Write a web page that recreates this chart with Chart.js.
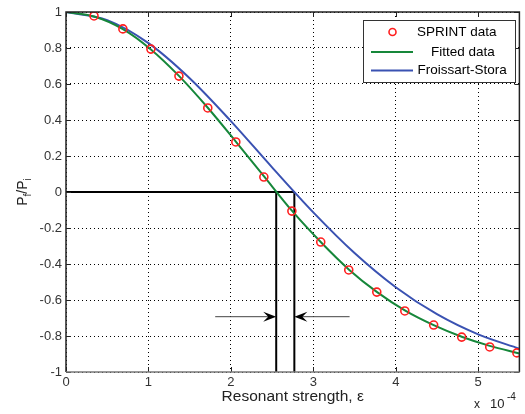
<!DOCTYPE html>
<html><head><meta charset="utf-8">
<script src="https://cdn.jsdelivr.net/npm/chart.js@4"></script>
<style>html,body{margin:0;padding:0;background:#fff}#wrap{width:525px;height:414px}canvas{display:block}</style>
</head><body>
<div id="wrap"><canvas id="c" width="525" height="414"></canvas></div>
<script>
// ---- data ----
const sprintX = [0.34,0.69,1.03,1.37,1.72,2.06,2.40,2.74,3.09,3.43,3.77,4.11,4.46,4.80,5.14,5.47];
const sprintY = [0.978,0.906,0.794,0.644,0.467,0.278,0.083,-0.106,-0.278,-0.433,-0.556,-0.661,-0.739,-0.806,-0.861,-0.894];
const fittedX = [0,0.34,0.69,1.03,1.37,1.72,2.06,2.40,2.74,3.09,3.43,3.77,4.11,4.46,4.80,5.14,5.5];
const fittedY = [1,0.975,0.905,0.792,0.645,0.468,0.280,0.088,-0.104,-0.278,-0.430,-0.555,-0.658,-0.740,-0.804,-0.855,-0.897];
const fsX = [0,0.5,1,1.5,2,2.5,3,3.5,4,4.5,5,5.5];
const fsY = [1,0.955,0.827,0.632,0.394,0.137,-0.113,-0.339,-0.529,-0.679,-0.791,-0.870];
const xTicks = [0,1,2,3,4,5];
const yTicks = [-1,-0.8,-0.6,-0.4,-0.2,0,0.2,0.4,0.6,0.8,1];
const crossFit = 2.55;   // zero crossing of fitted data
const crossFS = 2.77;    // zero crossing of Froissart-Stora
const arrowY = -0.69;
const arrowLeftStart = 1.81;
const arrowRightStart = 3.44;
const legendLabels = ['SPRINT data','Fitted data','Froissart-Stora'];

const toPts = (xs, ys) => xs.map((x, i) => ({x: x, y: ys[i]}));

const COL_RED = '#ff1f1f', COL_GREEN = '#16873a', COL_BLUE = '#3a52b2';
const FONT = '"Liberation Sans", Arial, sans-serif';

const decor = {
  id: 'decor',
  afterDatasetsDraw(chart) {
    const ctx = chart.ctx, xs = chart.scales.x, ys = chart.scales.y;
    const ay = ys.getPixelForValue(arrowY);
    const drawArrow = (fromV, toV) => {
      const x0 = xs.getPixelForValue(fromV), x1 = xs.getPixelForValue(toV);
      const dir = Math.sign(x1 - x0);
      ctx.save();
      ctx.strokeStyle = '#444'; ctx.lineWidth = 1;
      ctx.beginPath(); ctx.moveTo(x0, ay + 0.5); ctx.lineTo(x1 - dir * 6, ay + 0.5); ctx.stroke();
      ctx.fillStyle = '#000';
      ctx.beginPath();
      ctx.moveTo(x1, ay + 0.5);
      ctx.lineTo(x1 - dir * 13, ay - 4.5);
      ctx.lineTo(x1 - dir * 8, ay + 0.5);
      ctx.lineTo(x1 - dir * 13, ay + 5.5);
      ctx.closePath(); ctx.fill();
      ctx.restore();
    };
    drawArrow(arrowLeftStart, crossFit);
    drawArrow(arrowRightStart, crossFS);
  },
  afterDraw(chart) {
    const ctx = chart.ctx, a = chart.chartArea, xs = chart.scales.x, ys = chart.scales.y;
    ctx.save();
    // inner tick marks
    ctx.strokeStyle = '#222'; ctx.lineWidth = 1;
    ctx.beginPath();
    xTicks.forEach(v => {
      const p = Math.round(xs.getPixelForValue(v)) + 0.5;
      ctx.moveTo(p, a.bottom); ctx.lineTo(p, a.bottom - 5);
      ctx.moveTo(p, a.top); ctx.lineTo(p, a.top + 5);
    });
    yTicks.forEach(v => {
      const p = Math.round(ys.getPixelForValue(v)) + 0.5;
      ctx.moveTo(a.left, p); ctx.lineTo(a.left + 5, p);
      ctx.moveTo(a.right, p); ctx.lineTo(a.right - 5, p);
    });
    ctx.stroke();
    // frame
    ctx.lineWidth = 1.5;
    ctx.strokeStyle = '#222';
    ctx.beginPath();
    ctx.moveTo(a.left, a.bottom); ctx.lineTo(a.left, a.top); ctx.lineTo(a.right, a.top); ctx.lineTo(a.right, a.bottom);
    ctx.stroke();
    ctx.strokeStyle = '#777';
    ctx.beginPath(); ctx.moveTo(a.left, a.bottom); ctx.lineTo(a.right, a.bottom); ctx.stroke();

    // legend
    const lx = 363, ly = 20, lw = 152, lh = 62;
    ctx.fillStyle = '#fff'; ctx.fillRect(lx, ly, lw, lh);
    ctx.strokeStyle = '#333'; ctx.lineWidth = 1;
    ctx.strokeRect(lx + 0.5, ly + 0.5, lw, lh);
    ctx.font = '13.5px ' + FONT; ctx.fillStyle = '#000'; ctx.textBaseline = 'middle'; ctx.textAlign = 'left';
    const rows = [32, 52, 70.5];
    const textX = [417, 431, 417.5];
    ctx.strokeStyle = COL_RED; ctx.lineWidth = 1.6;
    ctx.beginPath(); ctx.arc(392.5, rows[0], 3.5, 0, Math.PI * 2); ctx.stroke();
    ctx.strokeStyle = COL_GREEN; ctx.lineWidth = 2;
    ctx.beginPath(); ctx.moveTo(371, rows[1]); ctx.lineTo(413, rows[1]); ctx.stroke();
    ctx.strokeStyle = COL_BLUE;
    ctx.beginPath(); ctx.moveTo(371, rows[2]); ctx.lineTo(413, rows[2]); ctx.stroke();
    legendLabels.forEach((t, i) => ctx.fillText(t, textX[i], rows[i]));

    // y title P_f/P_i
    ctx.save();
    ctx.translate(22, 192);
    ctx.rotate(-Math.PI / 2);
    ctx.fillStyle = '#222'; ctx.textBaseline = 'alphabetic';
    const parts = [['P', 14, 0], ['f', 10, 4], ['/', 14, 0], ['P', 14, 0], ['i', 10, 4]];
    let total = 0;
    parts.forEach(p => { ctx.font = p[1] + 'px ' + FONT; total += ctx.measureText(p[0]).width; });
    let cx = -total / 2;
    parts.forEach(p => { ctx.font = p[1] + 'px ' + FONT; ctx.fillText(p[0], cx, 5 + p[2]); cx += ctx.measureText(p[0]).width; });
    ctx.restore();

    // x 10^-4
    ctx.fillStyle = '#222'; ctx.textBaseline = 'alphabetic';
    ctx.font = '12px ' + FONT;
    ctx.fillText('x', 474, 408);
    ctx.font = '13px ' + FONT;
    ctx.fillText('10', 490, 408);
    ctx.font = '10px ' + FONT;
    ctx.fillText('-4', 507, 400);
    ctx.restore();
  }
};

new Chart(document.getElementById('c'), {
  type: 'line',
  data: {
    datasets: [
      { label: legendLabels[0], data: toPts(sprintX, sprintY), showLine: false,
        pointStyle: 'circle', pointRadius: 4, pointBorderWidth: 1.6,
        pointBorderColor: COL_RED, pointBackgroundColor: 'rgba(0,0,0,0)', borderColor: COL_RED },
      { label: legendLabels[1], data: toPts(fittedX, fittedY), borderColor: COL_GREEN, borderWidth: 2,
        pointRadius: 0, cubicInterpolationMode: 'monotone', fill: false },
      { label: legendLabels[2], data: toPts(fsX, fsY), borderColor: COL_BLUE, borderWidth: 2,
        pointRadius: 0, cubicInterpolationMode: 'monotone', fill: false },
      { label: 'h', data: [{x: 0, y: 0}, {x: crossFS, y: 0}], borderColor: '#000', borderWidth: 2, pointRadius: 0 },
      { label: 'v1', data: [{x: crossFit, y: 0}, {x: crossFit, y: -1}], borderColor: '#000', borderWidth: 2, pointRadius: 0 },
      { label: 'v2', data: [{x: crossFS, y: 0}, {x: crossFS, y: -1}], borderColor: '#000', borderWidth: 2, pointRadius: 0 }
    ]
  },
  options: {
    responsive: false, animation: false, devicePixelRatio: 1,
    layout: { padding: { top: 12, right: 1, left: 0, bottom: 0 } },
    plugins: { legend: { display: false }, tooltip: { enabled: false } },
    scales: {
      x: {
        type: 'linear', min: 0, max: 5.5,
        afterBuildTicks: s => { s.ticks = xTicks.map(v => ({value: v})); },
        afterFit: s => { s.height = 42; },
        ticks: { font: { size: 13, family: FONT }, color: '#333', padding: 3, maxRotation: 0,
                 callback: v => String(v) },
        grid: { color: '#000', lineWidth: 1, drawTicks: false },
        border: { display: false, dash: [1, 3] },
        title: { display: true, text: 'Resonant strength, ε', font: { size: 15.5, family: FONT }, color: '#222',
                 padding: { top: 0, bottom: 8 } }
      },
      y: {
        type: 'linear', min: -1, max: 1,
        afterBuildTicks: s => { s.ticks = yTicks.map(v => ({value: v})); },
        afterFit: s => { s.width = 66; },
        ticks: { font: { size: 13, family: FONT }, color: '#333', padding: 4,
                 callback: v => String(Number(v.toFixed(1))) },
        grid: { color: '#000', lineWidth: 1, drawTicks: false },
        border: { display: false, dash: [1, 3] }
      }
    }
  },
  plugins: [decor]
});
</script>
</body></html>
